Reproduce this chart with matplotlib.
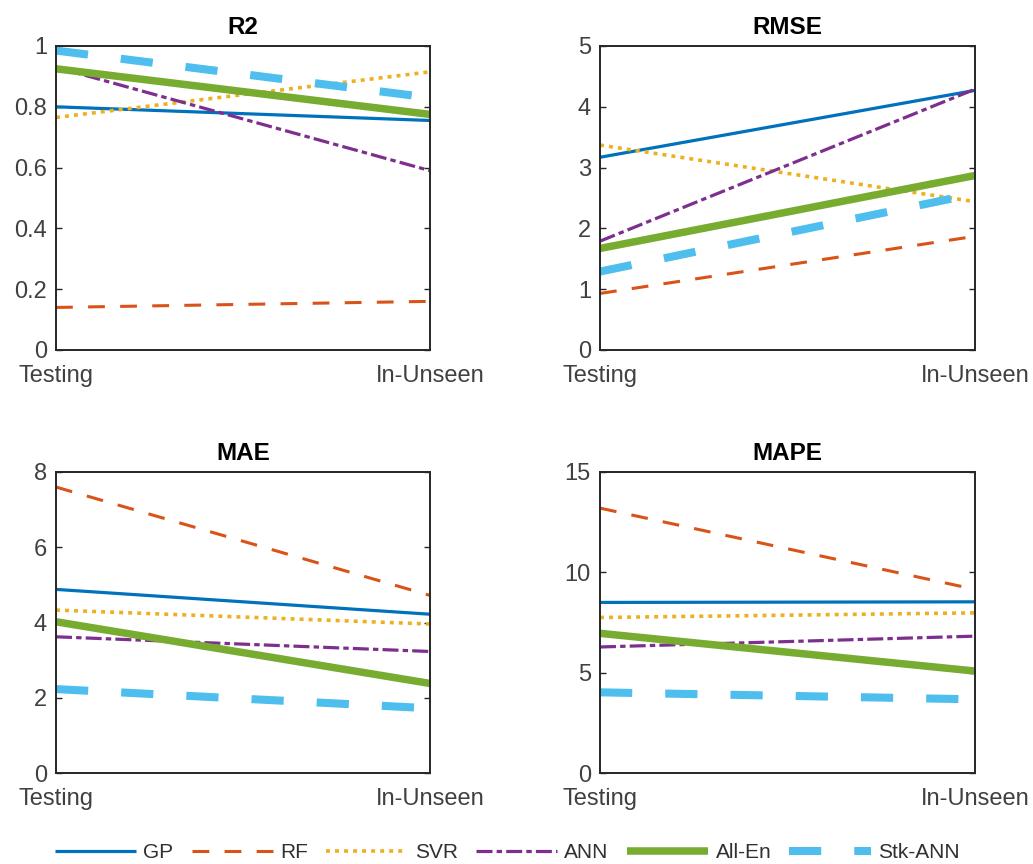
import numpy as np
import matplotlib.pyplot as plt

plt.rcParams['font.family'] = ['Liberation Sans', 'DejaVu Sans']

# stages on the x axis
stages = ["Testing", "In-Unseen"]
models = ["GP", "RF", "SVR", "ANN", "All-En", "Stk-ANN"]

# metric values, one pair (Testing, In-Unseen) per model
r2_vals = [[0.80, 0.755], [0.14, 0.16], [0.765, 0.915], [0.93, 0.59], [0.925, 0.775], [0.985, 0.83]]
rmse_vals = [[3.17, 4.27], [0.93, 1.87], [3.37, 2.44], [1.79, 4.29], [1.67, 2.87], [1.29, 2.57]]
mae_vals = [[4.88, 4.22], [7.60, 4.72], [4.33, 3.96], [3.62, 3.23], [4.02, 2.38], [2.23, 1.72]]
mape_vals = [[8.50, 8.53], [13.2, 9.15], [7.75, 7.98], [6.28, 6.82], [6.96, 5.08], [4.02, 3.67]]

titles = ["R2", "RMSE", "MAE", "MAPE"]
all_vals = [r2_vals, rmse_vals, mae_vals, mape_vals]
yticks = [[0, 0.2, 0.4, 0.6, 0.8, 1], [0, 1, 2, 3, 4, 5], [0, 2, 4, 6, 8], [0, 5, 10, 15]]
yticklabels = [["0", "0.2", "0.4", "0.6", "0.8", "1"], None, None, None]

colors = ["#0072BD", "#D95319", "#EDB120", "#7E2F8E", "#77AC30", "#4DBEEE"]
widths = [2.3, 2.2, 2.6, 2.3, 5.4, 5.8]
dash_styles = [None, (5.5, 5), (1.1, 1.4), (5, 1.3, 1.7, 1.3), None, (4, 4.1)]

fig = plt.figure(figsize=(10.33, 8.64), dpi=100)
positions = [
    [56/1033, 514/864, 374/1033, 304/864],
    [600/1033, 514/864, 375/1033, 304/864],
    [56/1033, 91/864, 374/1033, 301/864],
    [600/1033, 91/864, 375/1033, 301/864],
]

x = np.array([1, 2])
handles = []
for k in range(4):
    ax = fig.add_axes(positions[k])
    for i, m in enumerate(models):
        ln, = ax.plot(x, all_vals[k][i], color=colors[i], lw=widths[i], label=m,
                      solid_capstyle='butt', dash_capstyle='butt')
        if dash_styles[i] is not None:
            ln.set_dashes(dash_styles[i])
        if k == 0:
            handles.append(ln)
    ax.set_xlim(1, 2)
    ax.set_ylim(yticks[k][0], yticks[k][-1])
    ax.set_xticks(x)
    ax.set_xticklabels(stages)
    ax.set_yticks(yticks[k])
    if yticklabels[k] is not None:
        ax.set_yticklabels(yticklabels[k])
    ax.tick_params(direction='in', length=4, width=1.0, colors='#262626',
                   labelcolor='#404040', labelsize=17, right=True, pad=6.5)
    ax.tick_params(axis='x', length=0, pad=11)
    for s in ax.spines.values():
        s.set_linewidth(1.4)
        s.set_color('#262626')
    ax.set_title(titles[k], fontsize=17.5, fontweight='bold', pad=9)

fig.legend(handles=handles, labels=models, loc='center', bbox_to_anchor=(0.491, 0.013),
           ncol=6, frameon=False, fontsize=15, handlelength=3.9,
           handletextpad=0.35, columnspacing=0.87, labelcolor='#303030',
           borderpad=0, borderaxespad=0)

fig.savefig("out.png", dpi=100)
